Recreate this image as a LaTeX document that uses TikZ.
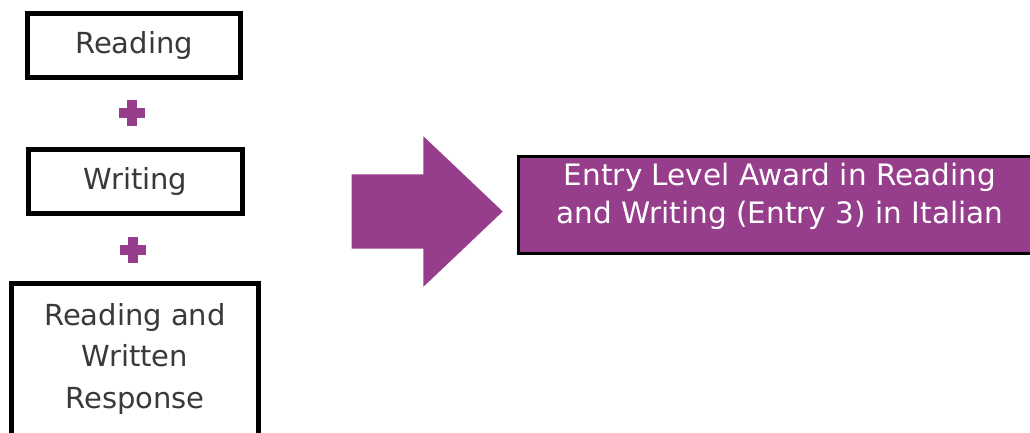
\documentclass[tikz,border=0pt]{standalone}
\usepackage{fontspec}
\setmainfont{DejaVu Sans}
\usepackage{tikz}
\usetikzlibrary{positioning}
\usetikzlibrary{shapes.arrows}
\definecolor{awardpurple}{RGB}{150,61,139}
\definecolor{boxtext}{HTML}{3A3838}
\tikzset{basic box/.style={draw,
                           rectangle,
                           line width=5pt,
                           inner sep=0pt,
                           text=boxtext,
                           font=\fontsize{29}{41.5}\selectfont}}
\tikzset{unit box/.style={basic box,minimum width=213pt,minimum height=64pt}}
\tikzset{award box/.style={draw,
                           line width=3pt,
                           fill=awardpurple,
                           text=white,
                           align=center,
                           inner sep=0pt,
                           text depth=23pt,
                           minimum width=523pt,
                           minimum height=97pt,
                           font=\fontsize{29.5}{37.5}\selectfont}}
\tikzset{plus sign/.style={minimum size=26pt,
                           inner sep=0pt,
                           path picture={
                           \fill [awardpurple] ([yshift=-5pt]path picture bounding box.west)
                           rectangle ([yshift=5pt]path picture bounding box.east);
                           \fill [awardpurple] ([xshift=-5pt]path picture bounding box.south)
                           rectangle ([xshift=5pt]path picture bounding box.north);}}}
\tikzset{big arrow/.style={single arrow,
                           fill=awardpurple,
                           inner xsep=0pt,
                           inner ysep=37pt,
                           single arrow head extend=38pt,
                           single arrow tip angle=87,
                           minimum height=151pt}}

\begin{document}
\begin{tikzpicture}[x=1pt,y=1pt]

  \useasboundingbox (0,0) rectangle (1030,-432);

  % units
  \node [unit box] (Reading) at (134,-45.5) {Reading};
  \node [unit box,minimum width=214pt] (Writing) at (135.5,-181.5) {Writing};
  \node [basic box,minimum width=247pt,align=center,text depth=60pt,inner ysep=19pt,anchor=base]
    (Response) at (135,-408) {Reading and\\Written\\Response};

  % plus signs
  \foreach \i/\x/\y in {1/132/113, 2/133/250}
  {
  \node [plus sign] (Plus\i) at (\x,-\y) {};
  }

  % arrow and award
  \node [big arrow,anchor=tip] (Arrow) at (503,-211.5) {};
  \node [award box] (Award) at (780,-205) {Entry Level Award in Reading\\and Writing (Entry 3) in Italian};

\end{tikzpicture}
\end{document}
